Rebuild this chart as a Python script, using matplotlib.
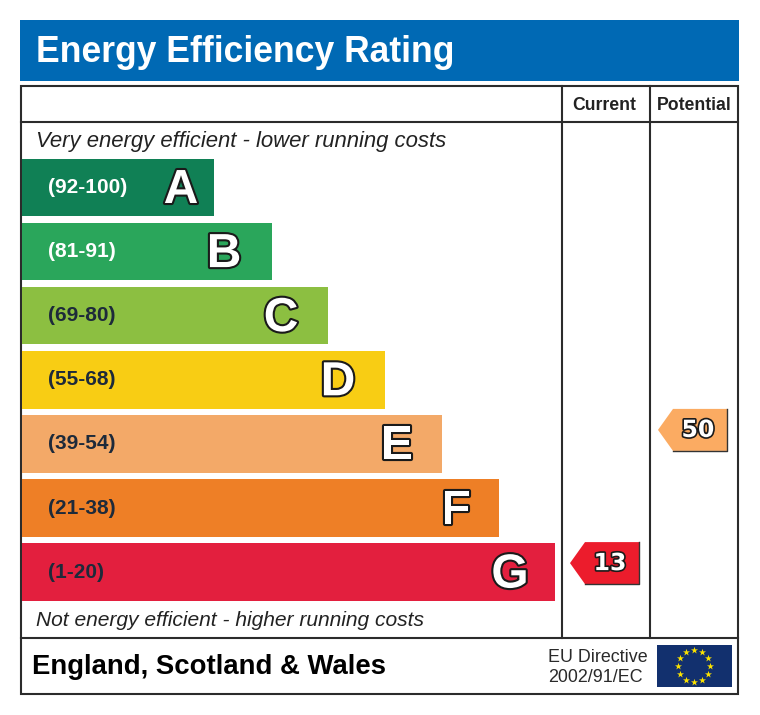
import numpy as np
import matplotlib
matplotlib.use("Agg")
import matplotlib.pyplot as plt
import matplotlib.patheffects as pe
from matplotlib.patches import Polygon, Rectangle

plt.rcParams['font.family'] = ['Liberation Sans', 'DejaVu Sans']

# bands, top one first
letters = ["A", "B", "C", "D", "E", "F", "G"]
ranges = ["(92-100)", "(81-91)", "(69-80)", "(55-68)", "(39-54)", "(21-38)", "(1-20)"]
range_low = [92, 81, 69, 55, 39, 21, 1]
bar_lengths = [192, 250, 306, 363, 420, 477, 533]
bar_colors = ["#108055", "#2aa65b", "#8cbf41", "#f8cd14", "#f3a968", "#ee7f26", "#e31f3e"]
label_colors = ["white", "white", "#1d2a3a", "#1d2a3a", "#1d2a3a", "#1d2a3a", "#1d2a3a"]
letter_inset = [33, 48, 47, 47, 45, 43, 45]

current = 13
potential = 50
current_color = "#ec1c2c"
potential_color = "#fbab62"

line_col = "#2b2b2b"

fig = plt.figure(figsize=(7.6, 7.15), dpi=100)
ax = fig.add_axes([0, 0, 1, 1])
ax.set_xlim(0, 760)
ax.set_ylim(715, 0)
ax.axis("off")

# blue title strip
ax.add_patch(Rectangle((20, 20), 719, 61, fc="#0069b4", ec="none"))
ax.text(36, 53, "Energy Efficiency Rating", color="white", fontsize=25.6, fontweight="bold", va="center")

# table frame
ax.add_patch(Rectangle((21, 86), 717, 608, fc="white", ec=line_col, lw=1.5, zorder=1))
ax.plot([21, 738], [122, 122], color=line_col, lw=1.5)
ax.plot([21, 738], [637.5, 637.5], color=line_col, lw=1.5)
ax.plot([562, 562], [86, 637.5], color=line_col, lw=1.5)
ax.plot([650, 650], [86, 637.5], color=line_col, lw=1.5)

ax.text(604.5, 105, "Current", ha="center", va="center", fontsize=12.7, fontweight="bold", color="#222222")
ax.text(694, 105, "Potential", ha="center", va="center", fontsize=12.7, fontweight="bold", color="#222222")

ax.text(36, 141, "Very energy efficient - lower running costs", fontsize=15.9, style="italic", va="center", color="#222222")
ax.text(36, 621, "Not energy efficient - higher running costs", fontsize=15.15, style="italic", va="center", color="#222222")

# rating bars
rows = np.arange(len(letters))
row_y = 187.5 + 64.1 * rows
ax.barh(row_y, bar_lengths, height=57.5, left=22, color=bar_colors, zorder=2)

outline = [pe.withStroke(linewidth=3, foreground="#1a1a1a")]
for i in rows:
    ax.text(48, row_y[i], ranges[i], color=label_colors[i], fontsize=15, fontweight="bold", va="center", zorder=3)
    ax.text(22 + bar_lengths[i] - letter_inset[i], row_y[i] + 3, letters[i], color="white", fontsize=34.5, fontweight="bold",
            ha="center", va="center", zorder=3, path_effects=outline)


def band_row(score):
    for j, low in enumerate(range_low):
        if score >= low:
            return j
    return len(range_low) - 1


def score_arrow(score, left, col, shift):
    y = row_y[band_row(score)] + shift
    pts = [(left, y), (left + 15, y - 21), (left + 69, y - 21), (left + 69, y + 21), (left + 15, y + 21)]
    ax.add_patch(Polygon(pts, closed=True, fc=col, ec="none", zorder=3))
    # only the right and bottom edges are dark
    ax.plot([left + 69, left + 69, left + 15], [y - 21, y + 21, y + 21], color="#333333", lw=1, zorder=3)
    ax.text(left + 40, y, str(score), family=["DejaVu Sans"], color="white", fontsize=17, fontweight="bold",
            ha="center", va="center", zorder=4, path_effects=[pe.withStroke(linewidth=2.4, foreground="#1a1a1a")])


score_arrow(current, 570, current_color, -9)
score_arrow(potential, 658, potential_color, -14)

# footer
ax.text(32, 667, "England, Scotland & Wales", fontsize=19.8, fontweight="bold", va="center", color="black")
ax.text(548, 657, "EU Directive", fontsize=12.9, va="center", color="#2a2a2a")
ax.text(548, 678, "2002/91/EC", fontsize=12.9, va="center", color="#2a2a2a")

# EU flag
ax.add_patch(Rectangle((657, 645), 75, 42, fc="#12306e", ec="none"))
ang = np.deg2rad(np.arange(0, 360, 30))
ax.scatter(694 + 16 * np.cos(ang), 666 + 16 * np.sin(ang), marker="*", s=28, color="#fce300", linewidths=0, zorder=3)

fig.savefig("out.png", dpi=100)
